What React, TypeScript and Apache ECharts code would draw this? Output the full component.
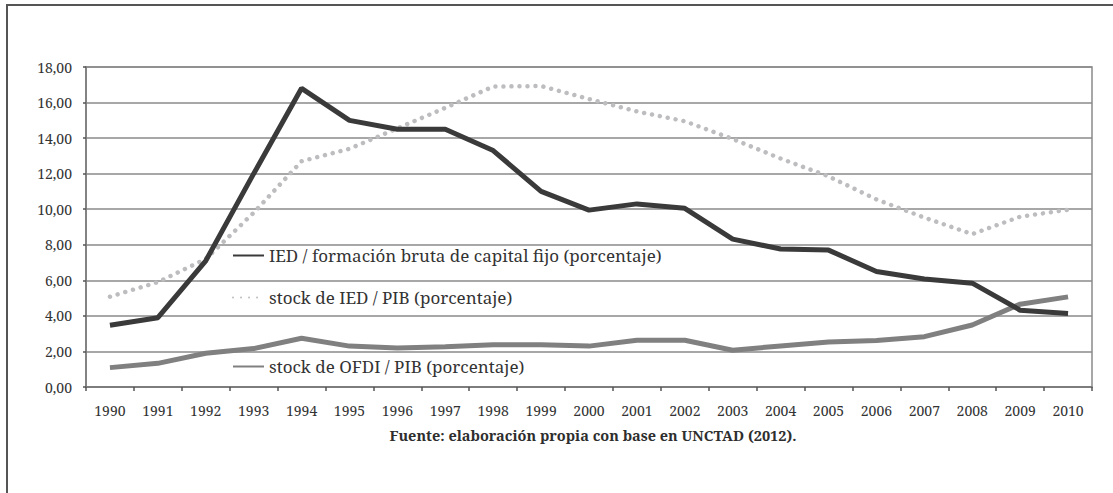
import React, { useEffect, useRef } from "react";
import * as echarts from "echarts";

const years = ["1990","1991","1992","1993","1994","1995","1996","1997","1998","1999","2000","2001","2002","2003","2004","2005","2006","2007","2008","2009","2010"];
const iedFbcf = [3.47, 3.9, 7.1, 12.0, 16.8, 15.0, 14.5, 14.5, 13.3, 11.0, 9.95, 10.3, 10.05, 8.32, 7.76, 7.7, 6.5, 6.07, 5.84, 4.32, 4.13];
const stockIed = [5.08, 5.9, 7.2, 9.8, 12.7, 13.4, 14.55, 15.7, 16.9, 16.93, 16.2, 15.5, 14.95, 13.95, 12.85, 11.85, 10.55, 9.53, 8.6, 9.58, 9.97];
const stockOfdi = [1.09, 1.33, 1.9, 2.16, 2.74, 2.3, 2.2, 2.27, 2.38, 2.38, 2.3, 2.63, 2.63, 2.07, 2.31, 2.53, 2.62, 2.83, 3.49, 4.66, 5.07];

const names = [
  "IED / formación bruta de capital fijo (porcentaje)",
  "stock de IED / PIB (porcentaje)",
  "stock de OFDI / PIB (porcentaje)",
];
const legendTops = [247, 289, 358];
const footer = "Fuente: elaboración propia con base en UNCTAD (2012).";

const SERIF = "Noto Serif";

export default function App() {
  const ref = useRef<HTMLDivElement>(null);
  useEffect(() => {
    if (!ref.current) return;
    const chart = echarts.init(ref.current, null, { renderer: "svg" });
    chart.setOption({
      animation: false,
      backgroundColor: "#ffffff",
      textStyle: { fontFamily: SERIF },
      title: {
        text: footer,
        left: 588,
        top: 422,
        textAlign: "center",
        textStyle: { fontFamily: SERIF, fontSize: 14.5, fontWeight: "bold", color: "#2e2e2e" },
      },
      graphic: [
        {
          type: "rect",
          shape: { x: 7, y: 5, width: 1300, height: 700 },
          style: { fill: "none", stroke: "#555555", lineWidth: 2 },
          silent: true,
          z: -1,
        },
      ],
      legend: names.map((n, i) => ({
        data: [n],
        left: 232,
        top: legendTops[i],
        padding: 0,
        itemWidth: 31,
        itemHeight: 14,
        itemStyle: { opacity: 0 },
        textStyle: { fontFamily: SERIF, fontSize: 17, color: "#333333" },
        selectedMode: false,
      })),
      grid: {
        left: 86,
        right: 21,
        top: 67,
        bottom: 106,
        show: true,
        borderColor: "#8a8a8a",
        borderWidth: 1.5,
      },
      xAxis: {
        type: "category",
        data: years,
        boundaryGap: true,
        axisLine: { lineStyle: { color: "#777777", width: 1.5 } },
        axisTick: { show: true, length: 4, lineStyle: { color: "#555555", width: 1.5 } },
        axisLabel: { fontFamily: SERIF, fontSize: 14, color: "#333333", margin: 16 },
      },
      yAxis: {
        type: "value",
        min: 0,
        max: 18,
        interval: 2,
        axisLine: { show: true, lineStyle: { color: "#777777", width: 1.5 } },
        axisTick: { show: true, length: 3, lineStyle: { color: "#555555", width: 1.5 } },
        axisLabel: {
          fontFamily: SERIF,
          fontSize: 14,
          color: "#333333",
          margin: 14,
          formatter: (v: number) => v.toFixed(2).replace(".", ","),
        },
        splitLine: { show: true, lineStyle: { color: "#8a8a8a", width: 1.5 } },
      },
      series: [
        {
          name: names[0],
          type: "line",
          data: iedFbcf,
          symbol: "none",
          showSymbol: false,
          lineStyle: { color: "#3a3a3a", width: 5 },
          itemStyle: { color: "#3a3a3a" },
          z: 4,
        },
        {
          name: names[1],
          type: "line",
          data: stockIed,
          symbol: "none",
          showSymbol: false,
          lineStyle: { color: "#bdbdc0", width: 4.5, type: [0.01, 8], cap: "round" },
          itemStyle: { color: "#bdbdc0" },
          z: 3,
        },
        {
          name: names[2],
          type: "line",
          data: stockOfdi,
          symbol: "none",
          showSymbol: false,
          lineStyle: { color: "#808080", width: 5 },
          itemStyle: { color: "#808080" },
          z: 3,
        },
      ],
    });
    return () => chart.dispose();
  }, []);
  return (
    <div
      ref={ref}
      style={{ position: "fixed", left: 0, top: 0, width: 1113, height: 493, background: "#fff" }}
    />
  );
}
